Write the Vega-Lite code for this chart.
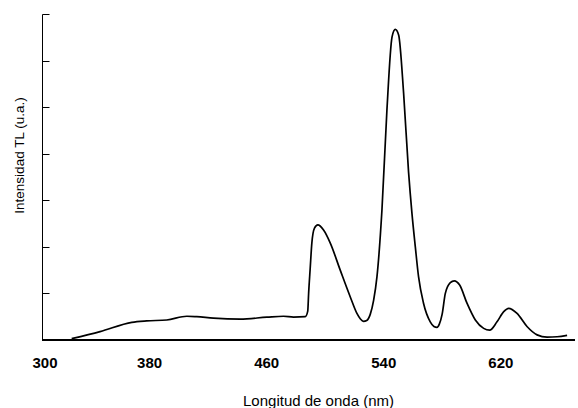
{
  "$schema": "https://vega.github.io/schema/vega-lite/v6.json",
  "width": 543,
  "height": 326,
  "autosize": "none",
  "padding": {"left": 32, "top": 14, "right": 3, "bottom": 68},
  "background": "white",
  "config": {"view": {"stroke": null}, "font": "Liberation Sans"},
  "data": {"values": [
    {"nm": 327.1, "v": 0.03},
    {"nm": 346.5, "v": 0.18},
    {"nm": 368.2, "v": 0.38},
    {"nm": 378.4, "v": 0.41},
    {"nm": 392.1, "v": 0.43},
    {"nm": 405.8, "v": 0.51},
    {"nm": 412.6, "v": 0.50},
    {"nm": 424.0, "v": 0.47},
    {"nm": 442.2, "v": 0.45},
    {"nm": 460.5, "v": 0.49},
    {"nm": 471.8, "v": 0.51},
    {"nm": 478.7, "v": 0.49},
    {"nm": 486.7, "v": 0.50},
    {"nm": 488.4, "v": 0.62},
    {"nm": 489.0, "v": 1.00},
    {"nm": 490.1, "v": 1.55},
    {"nm": 491.2, "v": 2.08},
    {"nm": 493.0, "v": 2.40},
    {"nm": 495.3, "v": 2.47},
    {"nm": 499.2, "v": 2.36},
    {"nm": 503.8, "v": 2.08},
    {"nm": 510.6, "v": 1.50},
    {"nm": 517.4, "v": 0.93},
    {"nm": 522.0, "v": 0.57},
    {"nm": 524.4, "v": 0.45},
    {"nm": 526.5, "v": 0.40},
    {"nm": 528.7, "v": 0.42},
    {"nm": 531.1, "v": 0.55},
    {"nm": 533.4, "v": 0.85},
    {"nm": 535.7, "v": 1.36},
    {"nm": 539.1, "v": 2.79},
    {"nm": 542.5, "v": 4.94},
    {"nm": 546.0, "v": 6.51},
    {"nm": 548.2, "v": 6.67},
    {"nm": 550.5, "v": 6.55},
    {"nm": 553.9, "v": 5.30},
    {"nm": 557.3, "v": 3.60},
    {"nm": 559.6, "v": 2.72},
    {"nm": 561.9, "v": 2.00},
    {"nm": 564.1, "v": 1.36},
    {"nm": 567.5, "v": 0.79},
    {"nm": 572.1, "v": 0.39},
    {"nm": 574.6, "v": 0.29},
    {"nm": 576.7, "v": 0.27},
    {"nm": 578.3, "v": 0.34},
    {"nm": 580.2, "v": 0.55},
    {"nm": 582.4, "v": 1.00},
    {"nm": 585.8, "v": 1.23},
    {"nm": 588.5, "v": 1.27},
    {"nm": 592.2, "v": 1.18},
    {"nm": 597.2, "v": 0.79},
    {"nm": 602.9, "v": 0.43},
    {"nm": 608.6, "v": 0.25},
    {"nm": 612.7, "v": 0.21},
    {"nm": 617.7, "v": 0.39},
    {"nm": 622.3, "v": 0.61},
    {"nm": 625.7, "v": 0.68},
    {"nm": 631.4, "v": 0.57},
    {"nm": 638.2, "v": 0.29},
    {"nm": 645.1, "v": 0.11},
    {"nm": 651.9, "v": 0.06},
    {"nm": 658.8, "v": 0.07},
    {"nm": 665.6, "v": 0.10}
  ]},
  "layer": [
    {
      "mark": {"type": "line", "color": "black", "strokeWidth": 1.7, "interpolate": "monotone"},
      "encoding": {
        "x": {
          "field": "nm", "type": "quantitative",
          "scale": {"domain": [300, 671], "nice": false, "zero": false},
          "axis": {
            "values": [300, 380, 460, 540, 620],
            "domain": false, "ticks": false, "grid": false,
            "labelFontSize": 15, "labelFontWeight": "bold", "labelColor": "black",
            "labelPadding": 15,
            "title": "Longitud de onda (nm)",
            "titleFontSize": 15, "titleFontWeight": "normal", "titleColor": "black",
            "titleX": 286, "titleY": 65, "titleBaseline": "alphabetic"
          }
        },
        "y": {
          "field": "v", "type": "quantitative",
          "scale": {"domain": [0, 7], "nice": false},
          "axis": {
            "values": [0, 1, 2, 3, 4, 5, 6, 7],
            "offset": -10,
            "labels": false, "grid": false,
            "domainColor": "black", "domainWidth": 1,
            "tickColor": "black", "tickSize": -7, "tickWidth": 1,
            "title": "Intensidad TL (u.a.)",
            "titleFontSize": 13.5, "titleFontWeight": "normal", "titleColor": "black",
            "titleX": -23, "titleY": 141, "titleAngle": -90,
            "titleAlign": "center", "titleBaseline": "middle"
          }
        }
      }
    },
    {
      "mark": {"type": "rule", "color": "black", "strokeWidth": 1},
      "encoding": {
        "x": {"datum": 307},
        "x2": {"datum": 671},
        "y": {"datum": 0}
      }
    }
  ]
}
